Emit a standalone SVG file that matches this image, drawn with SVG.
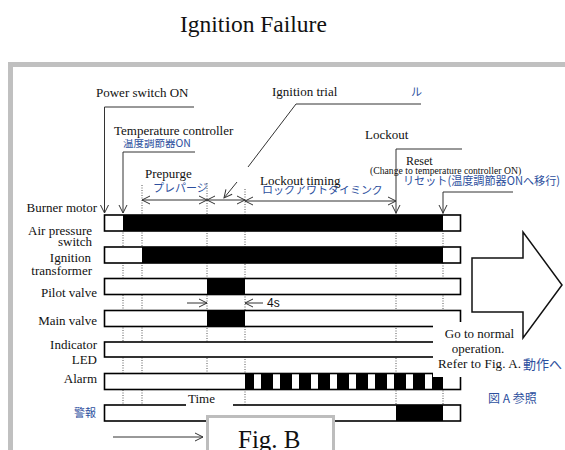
<svg xmlns="http://www.w3.org/2000/svg" width="565" height="450" viewBox="0 0 565 450">
<style>
.t{font-family:"Liberation Serif","Times New Roman",serif;font-size:13px;fill:#111}
.r{text-anchor:end}
.m{text-anchor:middle}
.jp{font-family:"Noto Sans CJK JP","Noto Sans CJK SC",sans-serif;fill:#2d4f9e}
.ln{fill:none;stroke:#333;stroke-width:1}
.ar{marker-end:url(#v)}
.dim{marker-start:url(#v);marker-end:url(#v)}
.dot{stroke:#555;stroke-width:1;stroke-dasharray:1 1.5}
.box{fill:#fff;stroke:#000;stroke-width:1.6}
.on{fill:#000}
</style>
<defs>
<marker id="v" markerWidth="10" markerHeight="10" refX="8" refY="4" orient="auto-start-reverse" markerUnits="userSpaceOnUse" overflow="visible">
<path d="M0,0 L8,4 L0,8" fill="none" stroke="#333" stroke-width="1"/>
</marker>
<clipPath id="clipTemp"><rect x="115" y="139" width="100" height="12"/></clipPath>
<clipPath id="clipLock"><rect x="255" y="186" width="140" height="10"/></clipPath>
</defs>

<rect width="565" height="450" fill="#fff"/>
<text class="t" x="180" y="32" style="font-size:23.5px">Ignition Failure</text>

<!-- frame -->
<rect x="10.5" y="64.5" width="600" height="420" fill="none" stroke="#c0c0c0" stroke-width="5"/>

<!-- timing guide lines -->
<g id="guides">
<line class="dot" x1="123" y1="215" x2="123" y2="405"/>
<line class="dot" x1="142" y1="185" x2="142" y2="405"/>
<line class="dot" x1="207" y1="183" x2="207" y2="405"/>
<line class="dot" x1="245" y1="189" x2="245" y2="405"/>
<line class="dot" x1="396" y1="213" x2="396" y2="405"/>
<line class="dot" x1="443" y1="213" x2="443" y2="405"/>
</g>

<!-- signal rows -->
<g id="row-burner"><rect class="box" x="104.5" y="215" width="356" height="16"/><rect class="on" x="123" y="215" width="320" height="16"/></g>
<g id="row-air"><rect class="box" x="104.5" y="247" width="356" height="16"/><rect class="on" x="142" y="247" width="301" height="16"/></g>
<g id="row-ignition"><rect class="box" x="104.5" y="278.5" width="356" height="16"/><rect class="on" x="207" y="278.5" width="38" height="16"/></g>
<g id="row-main"><rect class="box" x="104.5" y="310.5" width="356" height="16"/><rect class="on" x="207" y="310.5" width="38" height="16"/></g>
<g id="row-led"><rect class="box" x="104.5" y="342" width="356" height="15"/></g>
<g id="row-alarm"><rect class="box" x="104.5" y="373.5" width="356" height="16"/>
<path class="on" d="M245,373.5h9v16h-9zM261,373.5h12v16h-12zM280,373.5h12v16h-12zM299,373.5h12v16h-12zM318,373.5h12v16h-12zM337,373.5h12v16h-12zM356,373.5h12v16h-12zM375,373.5h12v16h-12zM394,373.5h12v16h-12zM413,373.5h12v16h-12zM432,373.5h11v16h-11z"/></g>
<g id="row-keihou"><rect class="box" x="104.5" y="405" width="356" height="16"/><rect class="on" x="396" y="405" width="47" height="16"/></g>

<!-- connectors -->
<g id="connectors">
<polyline class="ln ar" points="194,107 104.5,107 104.5,213"/>
<polyline class="ln ar" points="195,152 123,152 123,213"/>
<polyline class="ln" points="421,104 296,104 248,167"/>
<line class="ln ar" x1="237" y1="182" x2="224" y2="198"/>
<polyline class="ln ar" points="462,149 396,149 396,213"/>
<polyline class="ln ar" points="513,192 443,192 443,213"/>
<line class="ln dim" x1="142" y1="200" x2="207" y2="200"/>
<line class="ln dim" x1="207" y1="200" x2="245" y2="200"/>
<line class="ln dim" x1="245" y1="201" x2="396" y2="201"/>
<line class="ln ar" x1="187" y1="303" x2="207" y2="303"/>
<line class="ln ar" x1="263" y1="303" x2="245" y2="303"/>
<line class="ln ar" x1="113" y1="437" x2="203" y2="437"/>
</g>

<!-- next step arrow -->
<polygon id="next-arrow" points="472,258 523,258 523,232 562,285 523,338 523,312 472,312" fill="#fff" stroke="#111" stroke-width="1.5"/>

<!-- top annotations -->
<g id="labels-top">
<text class="t" x="96" y="97">Power switch ON</text>
<text class="jp" x="123" y="147" font-size="10.5" clip-path="url(#clipTemp)">温度調節器ON</text>
<text class="t" x="114" y="135">Temperature controller</text>
<text class="jp" x="153" y="192" font-size="11">プレパージ</text>
<text class="t" x="145" y="178">Prepurge</text>
<text class="t" x="272" y="96">Ignition trial</text>
<text class="jp" x="411" y="96" font-size="11">ル</text>
<text class="jp" x="262" y="194" font-size="11" clip-path="url(#clipLock)">ロックアウトタイミング</text>
<text class="t" x="260" y="185">Lockout timing</text>
<text class="t" x="365" y="139">Lockout</text>
<text class="jp" x="403" y="185" font-size="11.5" textLength="157" lengthAdjust="spacingAndGlyphs">リセット(温度調節器ONへ移行)</text>
<text class="t" x="406" y="165" style="font-size:12px">Reset</text>
<text class="t" x="370" y="174" style="font-size:9.7px">(Change to temperature controller ON)</text>
<text x="267" y="307" font-family="Liberation Sans, Arial, sans-serif" font-size="12" fill="#111">4s</text>
</g>

<!-- row names -->
<g id="labels-rows">
<text class="t r" x="97" y="212">Burner motor</text>
<text class="t r" x="92" y="235">Air pressure</text>
<text class="t r" x="92" y="246">switch</text>
<text class="t r" x="91" y="262">Ignition</text>
<text class="t r" x="92" y="275">transformer</text>
<text class="t r" x="97" y="297">Pilot valve</text>
<text class="t r" x="97" y="325">Main valve</text>
<text class="t r" x="97" y="349">Indicator</text>
<text class="t r" x="97" y="364">LED</text>
<text class="t r" x="97" y="383">Alarm</text>
<text class="jp" x="74" y="417" font-size="11" fill="#2b3f7a">警報</text>
</g>

<!-- time axis -->
<g id="time">
<rect x="186" y="391" width="47" height="15" fill="#fff"/>
<text class="t" x="188" y="403">Time</text>
<text class="jp" x="209" y="441" font-size="11">時間</text>
</g>

<!-- figure tag -->
<g id="fig-b">
<rect x="207.5" y="416.5" width="126" height="45" fill="#fff" stroke="#bdbdbd" stroke-width="3"/>
<text class="t" x="238" y="448" style="font-size:25px">Fig. B</text>
</g>

<!-- normal operation note -->
<g id="note">
<rect x="433" y="322" width="89" height="55" fill="#fff"/>
<text class="t m" x="479.5" y="338">Go to normal</text>
<text class="t m" x="478" y="353">operation.</text>
<text class="t" x="438" y="368" textLength="83">Refer to Fig. A.</text>
<text class="jp" x="523" y="369" font-size="13" fill="#3a4660">動作へ</text>
<text class="jp" x="488" y="403" font-size="12" fill="#3a4660">図 A 参照</text>
</g>
</svg>
